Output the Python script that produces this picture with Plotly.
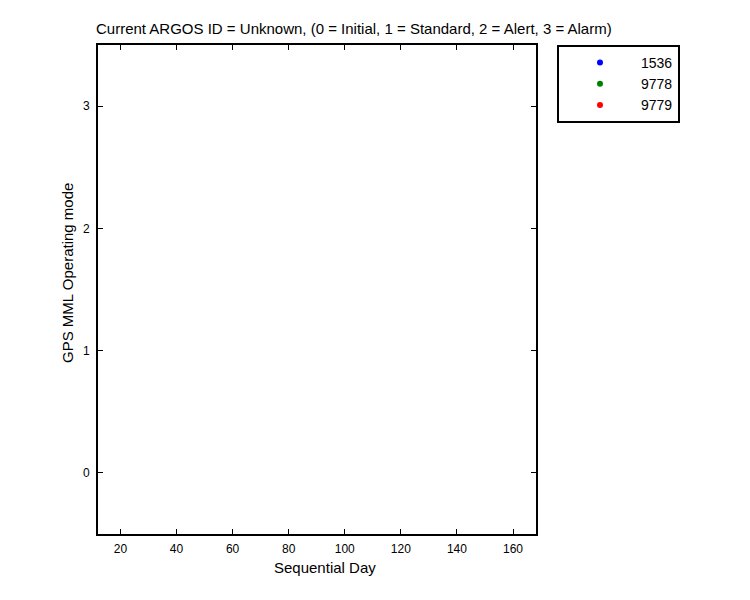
import plotly.graph_objects as go

# Data (no points are visible in the reference; traces exist only in legend)
series_names = ["1536", "9778", "9779"]
series_colors = ["#0000ff", "#008000", "#ff0000"]
series_x = [[None], [None], [None]]
series_y = [[None], [None], [None]]

x_ticks = [20, 40, 60, 80, 100, 120, 140, 160]
y_ticks = [0, 1, 2, 3]
x_range = [12, 168.2]
y_range = [-0.5, 3.5]

title_text = "Current ARGOS ID = Unknown, (0 = Initial, 1 = Standard, 2 = Alert, 3 = Alarm)"
x_title = "Sequential Day"
y_title = "GPS MML Operating mode"

FONT = "Liberation Sans, Arial, sans-serif"

fig = go.Figure()
for name, col, xs, ys in zip(series_names, series_colors, series_x, series_y):
    fig.add_trace(go.Scatter(x=xs, y=ys, mode="markers", name=name,
                             marker=dict(color=col, size=6)))

OFF = 8  # page body margin
PL, PR, PT, PB = 98, 536, 45, 534  # plot area in reference pixels
PW, PH = PR - PL, PB - PT
L, T = PL - OFF, PT - OFF
R = 750 - L - PW
B = 600 - T - PH

def px(x):
    return (x - PL) / PW

def py(y):
    return (PB - y) / PH

fig.update_layout(
    width=750, height=600,
    margin=dict(l=L, r=R, t=T, b=B, autoexpand=False),
    paper_bgcolor="white", plot_bgcolor="white",
    font=dict(family=FONT, size=12, color="black"),
    showlegend=True,
    legend=dict(x=px(557), y=py(45), xanchor="left", yanchor="top",
                bordercolor="black", borderwidth=2, bgcolor="white",
                font=dict(family=FONT, size=14, color="black"),
                itemwidth=72, tracegroupgap=0),
    xaxis=dict(range=x_range, tickvals=x_ticks, ticks="inside", ticklen=5,
               tickwidth=1, tickcolor="black", showline=True, linecolor="black",
               linewidth=2, mirror="ticks", showgrid=False, zeroline=False,
               tickfont=dict(size=12), ticklabelstandoff=3),
    yaxis=dict(range=y_range, tickvals=y_ticks, ticks="inside", ticklen=5,
               tickwidth=1, tickcolor="black", showline=True, linecolor="black",
               linewidth=2, mirror="ticks", showgrid=False, zeroline=False,
               tickfont=dict(size=12), ticklabelstandoff=4),
    annotations=[
        dict(text=title_text, xref="paper", yref="paper",
             x=px(354), y=py(29),
             xanchor="center", yanchor="middle", showarrow=False,
             font=dict(family=FONT, size=15)),
        dict(text=x_title, xref="paper", yref="paper",
             x=px(325), y=py(567),
             xanchor="center", yanchor="middle", showarrow=False,
             font=dict(family=FONT, size=15)),
        dict(text=y_title, xref="paper", yref="paper", textangle=-90,
             x=px(67), y=py(273),
             xanchor="center", yanchor="middle", showarrow=False,
             font=dict(family=FONT, size=15)),
    ],
)

fig.write_html("out.html")
